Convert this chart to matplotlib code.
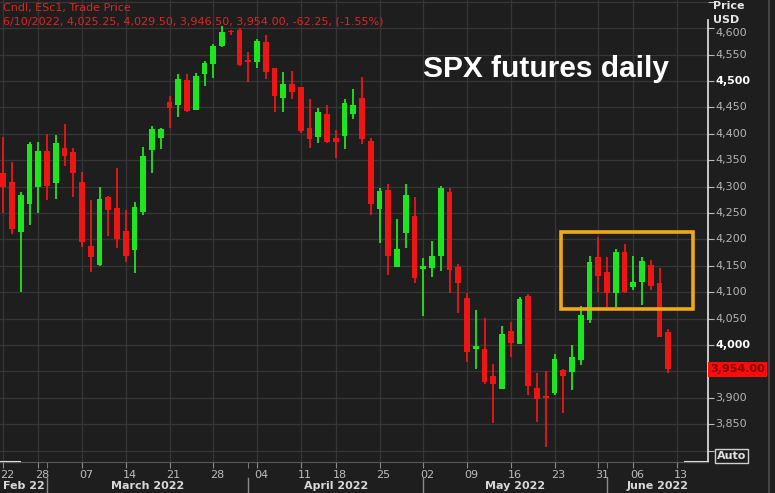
import numpy as np
import pandas as pd
import matplotlib
matplotlib.use("Agg")
import matplotlib.pyplot as plt
from matplotlib.lines import Line2D
from matplotlib.patches import Rectangle
import matplotlib.transforms as mtrans

# daily candles, ESc1, Feb 22 -> Jun 10 2022
opens = [4326, 4309, 4214, 4267, 4299, 4367, 4307, 4373, 4366, 4309,
         4188, 4152, 4280, 4259, 4216, 4180, 4252, 4369, 4392, 4460,
         4455, 4502, 4445, 4513, 4532, 4566, 4595, 4597, 4540, 4536,
         4574, 4525, 4468, 4494, 4489, 4411, 4394, 4438, 4392, 4396,
         4438, 4468, 4386, 4258, 4293, 4148, 4212, 4244, 4144, 4146,
         4169, 4290, 4148, 4089, 3992, 3992, 3941, 3917, 4026, 4002,
         4093, 3919, 3903, 3909, 3953, 3949, 3972, 4047, 4167, 4138,
         4098, 4176, 4110, 4119, 4151, 4117, 4025.25]
highs = [4394, 4347, 4290, 4385, 4385, 4400, 4398, 4419, 4373, 4328,
         4275, 4299, 4282, 4335, 4256, 4271, 4375, 4415, 4411, 4472,
         4513, 4513, 4515, 4538, 4570, 4605, 4597, 4600, 4555, 4580,
         4587, 4525, 4517, 4519, 4489, 4466, 4449, 4455, 4407, 4466,
         4485, 4508, 4392, 4297, 4305, 4239, 4305, 4280, 4165, 4197,
         4301, 4297, 4153, 4098, 4066, 4051, 3964, 4036, 4044, 4091,
         4097, 3947, 3951, 3983, 3955, 4000, 4074, 4169, 4205, 4167,
         4182, 4191, 4169, 4167, 4161, 4146, 4029.50]
lows = [4250, 4210, 4101, 4227, 4250, 4275, 4276, 4339, 4280, 4186,
        4138, 4150, 4206, 4184, 4157, 4136, 4246, 4326, 4371, 4411,
        4432, 4441, 4445, 4490, 4506, 4564, 4587, 4528, 4498, 4525,
        4504, 4441, 4441, 4466, 4401, 4373, 4383, 4382, 4354, 4371,
        4428, 4381, 4246, 4193, 4133, 4148, 4184, 4117, 4055, 4129,
        4140, 4098, 4061, 3968, 3955, 3926, 3852, 3917, 3977, 4002,
        3905, 3854, 3807, 3905, 3871, 3915, 3962, 4042, 4100, 4072,
        4072, 4098, 4104, 4076, 4104, 4015, 3946.50]
closes = [4299, 4220, 4284, 4381, 4367, 4301, 4383, 4358, 4326, 4195,
          4167, 4277, 4256, 4201, 4169, 4261, 4358, 4409, 4409, 4449,
          4504, 4443, 4510, 4534, 4566, 4593, 4593, 4531, 4536, 4576,
          4517, 4472, 4494, 4479, 4405, 4390, 4441, 4384, 4384, 4458,
          4455, 4390, 4267, 4292, 4169, 4182, 4284, 4127, 4150, 4169,
          4297, 4142, 4117, 3987, 3998, 3930, 3926, 4021, 4004, 4087,
          3922, 3898, 3900, 3973, 3941, 3977, 4057, 4157, 4131, 4098,
          4176, 4100, 4119, 4159, 4112, 4015, 3954.00]

# trading days (Good Friday and Memorial Day out), last one is the empty Jun 13 slot
days = pd.bdate_range("2022-02-22", "2022-06-13")
days = days[~days.isin(pd.to_datetime(["2022-04-15", "2022-05-30"]))]

price_levels = list(range(3800, 4651, 50))
price_labels = [3850, 3900, 4000, 4050, 4100, 4150, 4200, 4250, 4300,
                4350, 4400, 4450, 4500, 4550, 4600]
bold_labels = [4000, 4500]
last_price = 3954.00
month_names = ["Feb 22", "March 2022", "April 2022", "May 2022", "June 2022"]

box_days = (63.7, 78.8)
box_prices = (4068, 4214)

bg = "#1e1e1e"
grid_c = "#363636"
up_c = "#1ee61e"
down_c = "#ee1515"

fig = plt.figure(figsize=(7.75, 4.93), dpi=100, facecolor=bg)
ax = fig.add_axes([0, 31 / 493, 708 / 775, 462 / 493], facecolor=bg)

x = np.arange(len(opens))
o = np.array(opens)
c = np.array(closes)
cols = [up_c if cc >= oo else down_c for oo, cc in zip(o, c)]
ax.vlines(x, lows, highs, colors=cols, lw=1.3, zorder=3)
body_lo = np.minimum(o, c)
body_h = np.maximum(np.abs(c - o), 2.5)
ax.bar(x, body_h, bottom=body_lo, width=0.65, color=cols, zorder=4, linewidth=0)

ax.add_patch(Rectangle((box_days[0], box_prices[0]), box_days[1] - box_days[0],
                       box_prices[1] - box_prices[0], fill=False,
                       edgecolor="#f0a818", lw=2.6, zorder=5))

ax.set_xlim(-0.38, 80.54)
ax.set_ylim(3778.4, 4653.4)

# weekly ticks = first trading day of each week, minor = first day of month
wk = pd.Series(days).dt.to_period("W")
week_idx = [i for i in range(len(days)) if i == 0 or wk[i] != wk[i - 1]]
mon = pd.Series(days).dt.month
month_idx = [i for i in range(1, len(days)) if mon[i] != mon[i - 1]]

ax.set_xticks(week_idx)
ax.set_xticklabels([days[i].strftime("%d") for i in week_idx])
ax.set_xticks(month_idx, minor=True)
ax.tick_params(axis="x", which="both", direction="out", length=4, color="#8a8a8a",
               labelcolor="#bcbcbc", labelsize=8, pad=1.5)
# labels sit a few pixels right of their tick
shift = mtrans.ScaledTranslation(4 / 100, 0, fig.dpi_scale_trans)
for lab in ax.get_xticklabels():
    lab.set_transform(lab.get_transform() + shift)
ax.set_yticks(price_levels)
ax.set_yticklabels([])
ax.tick_params(axis="y", which="both", left=False, right=True, direction="out",
               length=4, color="#bcbcbc")
ax.grid(True, which="major", color=grid_c, lw=0.9, zorder=0)

for s in ["top", "left", "right"]:
    ax.spines[s].set_visible(False)
ax.spines["bottom"].set_color("#5a5a5a")

# bright bits of axis lines
ax.add_line(Line2D([1, 1], [0, 1 - 20 / 462], transform=ax.transAxes, color="#e6e6e6",
                   lw=1.2, clip_on=False))
ax.add_line(Line2D([0, 20 / 708], [0, 0], transform=ax.transAxes, color="#e6e6e6",
                   lw=1.5, clip_on=False))
ax.add_line(Line2D([685 / 708, 1], [0, 0], transform=ax.transAxes, color="#e6e6e6",
                   lw=1.5, clip_on=False))

# price labels on the right
yt = mtrans.blended_transform_factory(ax.transAxes, ax.transData)
ytl = mtrans.offset_copy(yt, fig=fig, x=7, y=0, units="dots")
for p in price_labels:
    bold = p in bold_labels
    ax.text(1, p, f"{p:,}", transform=ytl, ha="left", va="top" if p == 4600 else "center",
            fontsize=8, color="#ffffff" if bold else "#b4b4b4",
            fontweight="bold" if bold else "normal", clip_on=False)
ax.text(1, last_price, f"{last_price:,.2f}", transform=mtrans.offset_copy(yt, fig=fig, x=2, units="dots"),
        ha="left", va="center", fontsize=8, fontweight="bold", color="#7a0000",
        bbox=dict(facecolor="#ff0a0a", edgecolor="none", pad=1.6), clip_on=False)

# month row
xt = mtrans.blended_transform_factory(ax.transData, ax.transAxes)
edges = [-0.38] + month_idx + [80.54]
for k, name in enumerate(month_names):
    ax.text((edges[k] + edges[k + 1]) / 2, -0.053, name, transform=xt, ha="center",
            va="center", fontsize=8, fontweight="bold", color="#d8d8d8", clip_on=False)
for m in month_idx:
    ax.add_line(Line2D([m, m], [-0.034, -0.068], transform=xt, color="#8a8a8a",
                       lw=1, clip_on=False))

# header texts
fig.text(3 / 775, 1 - 8 / 493, "Cndl, ESc1, Trade Price", color="#e02424",
         fontsize=8, va="center", ha="left")
fig.text(3 / 775, 1 - 22 / 493,
         "6/10/2022, 4,025.25, 4,029.50, 3,946.50, 3,954.00, -62.25, (-1.55%)",
         color="#e02424", fontsize=8, va="center", ha="left")
fig.text(423 / 775, 1 - 77 / 493, "SPX futures daily", color="white", fontsize=21.5,
         fontweight="bold", family="Liberation Sans", va="baseline", ha="left")
fig.text(713 / 775, 1 - 6 / 493, "Price", color="#e6e6e6", fontsize=8,
         fontweight="bold", va="center", ha="left")
fig.text(713 / 775, 1 - 20 / 493, "USD", color="#e6e6e6", fontsize=8,
         fontweight="bold", va="center", ha="left")
fig.text(717 / 775, 1 - 456 / 493, "Auto", color="#e0e0e0", fontsize=8,
         fontweight="bold", va="center", ha="left",
         bbox=dict(facecolor="none", edgecolor="#d0d0d0", pad=1.2, lw=1))

fig.add_artist(Line2D([769 / 775, 769 / 775], [0, 1], transform=fig.transFigure,
                      color="#444444", lw=1.5))

fig.savefig("out.png", dpi=100, facecolor=bg)
